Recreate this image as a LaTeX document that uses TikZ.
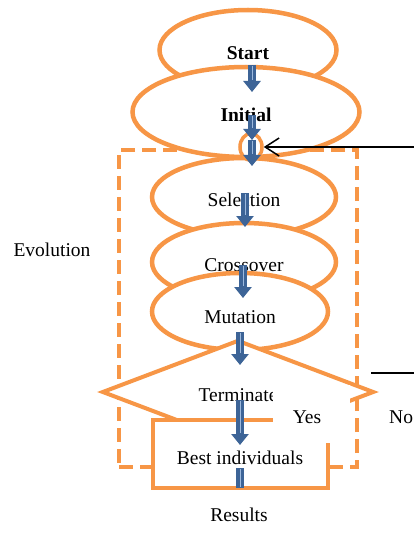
\documentclass[tikz,border=0pt]{standalone}
\usepackage{fontspec}
\setmainfont{Liberation Serif}
\usepackage{xcolor}
\usetikzlibrary{shapes.geometric,arrows.meta,calc}
\definecolor{evoorange}{HTML}{F79646}
\definecolor{arrowblue}{HTML}{3D6497}
\definecolor{arrowlight}{HTML}{9DB9DD}

\begin{document}
\begin{tikzpicture}[x=1pt, y=-1pt,
    every node/.style={font=\fontsize{19.5}{23}\selectfont},
    stage/.style={ellipse, draw=evoorange, line width=4.5pt, fill=white, inner sep=0pt, text height=19pt, text depth=0pt},
    evobox/.style={draw=evoorange, line width=3.5pt, dash pattern=on 14pt off 7pt, inner sep=0pt},
    decision/.style={diamond, draw=evoorange, line width=4pt, fill=white, inner sep=0pt, text height=19pt, text depth=0pt},
    outbox/.style={rectangle, draw=evoorange, line width=4pt, fill=white, inner sep=0pt, text height=20pt, text depth=0pt},
    blockarrow/.style={draw=arrowblue, line width=8pt, -{Triangle[width=17pt,length=11pt]},
        postaction={draw=arrowlight, line width=1pt, -, shorten >=12pt, shorten <=1pt}},
    blockbar/.style={draw=arrowblue, line width=8pt,
        postaction={draw=arrowlight, line width=1pt, shorten >=1pt, shorten <=1pt}},
    thinline/.style={draw=black, line width=1.5pt}]
    \useasboundingbox (0,0) rectangle (414,556);

    % Evolution loop frame
    \node[evobox, minimum width=238, minimum height=317] (evo) at (238,308.5) {};

    % Stages
    \node[stage, minimum width=177, minimum height=80] (start) at (248,50) {\bfseries Start};
    \node[stage, minimum width=227, minimum height=90] (init) at (246,112) {\bfseries Initial};
    \node[stage, minimum width=184, minimum height=78] (sel) at (244,197) {Selection};
    \node[stage, minimum width=184, minimum height=78] (cross) at (244,262) {Crossover};
    \node[stage, minimum width=176, minimum height=77, text height=24pt] (mut) at (240,311.5) {Mutation};
    \node[stage, line width=3.5pt, minimum width=22, minimum height=20] (loop) at (251,147) {};

    % Termination test and result
    \node[decision, minimum width=272, minimum height=104] (term) at (238,392) {Terminate};
    \node[outbox, minimum width=175, minimum height=68] (best) at (240,454) {Best individuals};
    \node[fill=white, inner sep=0pt, minimum width=77, minimum height=58] (yesmask) at (311.5,414) {};

    % Labels
    \node (evolabel) at (52,250) {Evolution};
    \node (yes) at (307,417) {Yes};
    \node[anchor=west, inner sep=0pt] (no) at (389,417) {No};
    \node (results) at (239,515) {Results};

    % Blue flow arrows
    \coordinate (a1s) at (252,65);  \coordinate (a1e) at (252,92);
    \coordinate (a2s) at (252,115); \coordinate (a2e) at (252,140);
    \coordinate (a3s) at (252,140); \coordinate (a3e) at (252,166);
    \coordinate (a4s) at (245,193); \coordinate (a4e) at (245,227);
    \coordinate (a5s) at (243,265); \coordinate (a5e) at (243,298);
    \coordinate (a6s) at (240,332); \coordinate (a6e) at (240,365);
    \coordinate (a7s) at (240,400); \coordinate (a7e) at (240,445);
    \coordinate (a8s) at (240,468); \coordinate (a8e) at (240,488);
    \draw[blockarrow] (a1s) -- (a1e);
    \draw[blockarrow] (a2s) -- (a2e);
    \draw[blockarrow] (a3s) -- (a3e);
    \draw[blockarrow] (a4s) -- (a4e);
    \draw[blockarrow] (a5s) -- (a5e);
    \draw[blockarrow] (a6s) -- (a6e);
    \draw[blockarrow] (a7s) -- (a7e);
    \draw[blockbar] (a8s) -- (a8e);

    % Loop-back lines
    \coordinate (backin) at (420,147);
    \draw[thinline, -{Straight Barb[length=14pt,width=18pt]}] (backin) -- (loop.east);
    \coordinate (noout) at (371,373);
    \coordinate (noend) at (420,373);
    \draw[thinline] (noout) -- (noend);
\end{tikzpicture}
\end{document}
